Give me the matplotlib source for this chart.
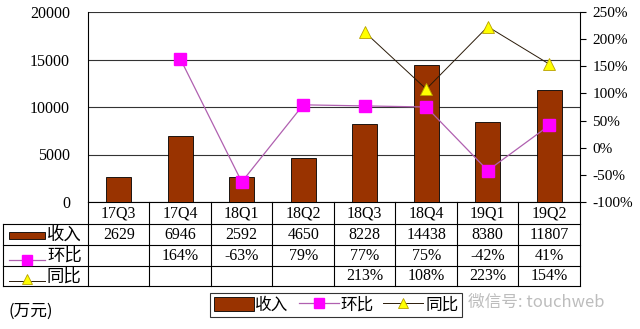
import matplotlib
matplotlib.use("Agg")
import matplotlib.pyplot as plt
import numpy as np
from matplotlib.lines import Line2D
from matplotlib.patches import Rectangle

plt.rcParams['font.family'] = ['Liberation Serif', 'Noto Sans CJK SC', 'DejaVu Sans']

quarters = ['17Q3', '17Q4', '18Q1', '18Q2', '18Q3', '18Q4', '19Q1', '19Q2']
revenue = [2629, 6946, 2592, 4650, 8228, 14438, 8380, 11807]
qoq = [None, 164, -63, 79, 77, 75, -42, 41]
yoy = [None, None, None, None, 213, 108, 223, 154]
row_names = ['收入', '环比', '同比']

BAR_C = '#993300'
QOQ_C = '#ff00ff'
QOQ_LINE = '#b060b0'
YOY_C = '#ffff00'
YOY_LINE = '#2a1a08'

W, H = 640, 329
fig = plt.figure(figsize=(W / 100, H / 100), dpi=100)

def fx(px):
    return px / W

def fy(py):
    return 1 - py / H

x0, x1, ytop, ybot = 88, 580, 12, 202
ax = fig.add_axes([fx(x0), fy(ybot), fx(x1 - x0), fy(ytop) - fy(ybot)])
x = np.arange(len(quarters))
ax.bar(x, revenue, width=0.4, color=BAR_C, edgecolor='black', linewidth=0.6, zorder=3)
ax.set_xlim(-0.5, len(quarters) - 0.5)
ax.set_ylim(0, 20000)
ax.set_yticks([0, 5000, 10000, 15000, 20000])
ax.yaxis.grid(True, color='#333333', linewidth=0.8, zorder=0)
ax.set_axisbelow(True)
ax.set_xticks([])
ax.spines['top'].set_visible(False)
ax.spines['right'].set_visible(False)
ax.spines['left'].set_linewidth(0.8)
ax.spines['bottom'].set_linewidth(0.8)
ax.tick_params(axis='y', length=0, pad=13, labelsize=11.5)

ax2 = ax.twinx()
ax2.set_ylim(-100, 250)
ax2.set_yticks(range(-100, 251, 50))
ax2.set_yticklabels([f'{v}%' for v in range(-100, 251, 50)])
ax2.tick_params(axis='y', length=4, width=0.8, pad=5, labelsize=11)
for s in ['top', 'left', 'bottom']:
    ax2.spines[s].set_visible(False)
ax2.spines['right'].set_linewidth(0.8)

qoq_arr = np.array([np.nan if v is None else v for v in qoq], dtype=float)
yoy_arr = np.array([np.nan if v is None else v for v in yoy], dtype=float)
ax2.plot(x, qoq_arr, color=QOQ_LINE, linewidth=0.9, marker='s', markersize=8,
         markerfacecolor=QOQ_C, markeredgecolor=QOQ_C, zorder=5)
ax2.plot(x, yoy_arr, color=YOY_LINE, linewidth=0.7, marker='^', markersize=8,
         markerfacecolor=YOY_C, markeredgecolor='#b8a000', markeredgewidth=0.6, zorder=5)

# data table under the chart
tl, tr, t_top, t_bot = 3, 580, 202, 286
col_w = (x1 - x0) / len(quarters)
left_extra = (x0 - tl) / col_w
tax = fig.add_axes([fx(tl), fy(t_bot), fx(tr - tl), fy(t_top) - fy(t_bot)])
tax.set_xlim(-0.5 - left_extra, len(quarters) - 0.5)
tax.set_ylim(t_bot, t_top)
tax.axis('off')
row_lines = [224, 245, 266, 286]
lw = 0.8
for yl in row_lines:
    tax.plot([-0.5 - left_extra, len(quarters) - 0.5], [yl, yl], color='black', lw=lw, clip_on=False)
for i in range(len(quarters) + 1):
    tax.plot([i - 0.5, i - 0.5], [t_top, t_bot], color='black', lw=lw, clip_on=False)
tax.plot([-0.5 - left_extra] * 2, [224, 286], color='black', lw=lw, clip_on=False)

for i, q in enumerate(quarters):
    tax.text(i, 213.5, q, ha='center', va='center', fontsize=11.5)
    tax.text(i, 235, str(revenue[i]), ha='center', va='center', fontsize=11.5)
    if qoq[i] is not None:
        tax.text(i, 256, f'{qoq[i]}%', ha='center', va='center', fontsize=11.5)
    if yoy[i] is not None:
        tax.text(i, 276.5, f'{yoy[i]}%', ha='center', va='center', fontsize=11.5)

# row keys in the label column
def px2tx(px):
    return -0.5 - left_extra + (px - tl) / col_w

tax.add_patch(Rectangle((px2tx(9), 238.5), px2tx(45) - px2tx(9), -6.5,
                        facecolor=BAR_C, edgecolor='black', lw=0.6, clip_on=False))
tax.plot([px2tx(9), px2tx(45)], [260, 260], color=QOQ_LINE, lw=0.9, clip_on=False)
tax.plot([px2tx(27)], [260], marker='s', markersize=7, color=QOQ_C, clip_on=False)
tax.plot([px2tx(9), px2tx(45)], [281, 281], color=YOY_LINE, lw=0.7, clip_on=False)
tax.plot([px2tx(27)], [279], marker='^', markersize=7, markerfacecolor=YOY_C,
         markeredgecolor='#b8a000', markeredgewidth=0.6, clip_on=False)
for name, yy in zip(row_names, [235, 256, 276.5]):
    tax.text(px2tx(47), yy, name, ha='left', va='center', fontsize=12.5,
             family=['Noto Sans CJK SC'])

# legend
handles = [
    Rectangle((0, 0), 1, 1, facecolor=BAR_C, edgecolor='black', lw=0.6),
    Line2D([], [], color=QOQ_LINE, lw=0.9, marker='s', markersize=7,
           markerfacecolor=QOQ_C, markeredgecolor=QOQ_C),
    Line2D([], [], color=YOY_LINE, lw=0.7, marker='^', markersize=7,
           markerfacecolor=YOY_C, markeredgecolor='#b8a000', markeredgewidth=0.6),
]
leg = fig.legend(handles, row_names, loc='center', bbox_to_anchor=(fx(336), fy(305)),
                 ncol=3, frameon=True, fancybox=False, edgecolor='black',
                 prop={'family': ['Noto Sans CJK SC'], 'size': 12},
                 handlelength=2.4, handletextpad=0.1, columnspacing=0.6,
                 borderpad=0.2, handleheight=0.9)
leg.get_frame().set_linewidth(0.8)

fig.text(fx(8), fy(311), '(万元)', ha='left', va='center', fontsize=12,
         family=['Noto Sans CJK SC', 'DejaVu Sans'])
fig.text(fx(468), fy(302), '微信号: touchweb', ha='left', va='center', fontsize=12,
         color='#bdbdbd', family=['Noto Sans CJK SC', 'DejaVu Sans'])

fig.savefig('out.png', dpi=100)
